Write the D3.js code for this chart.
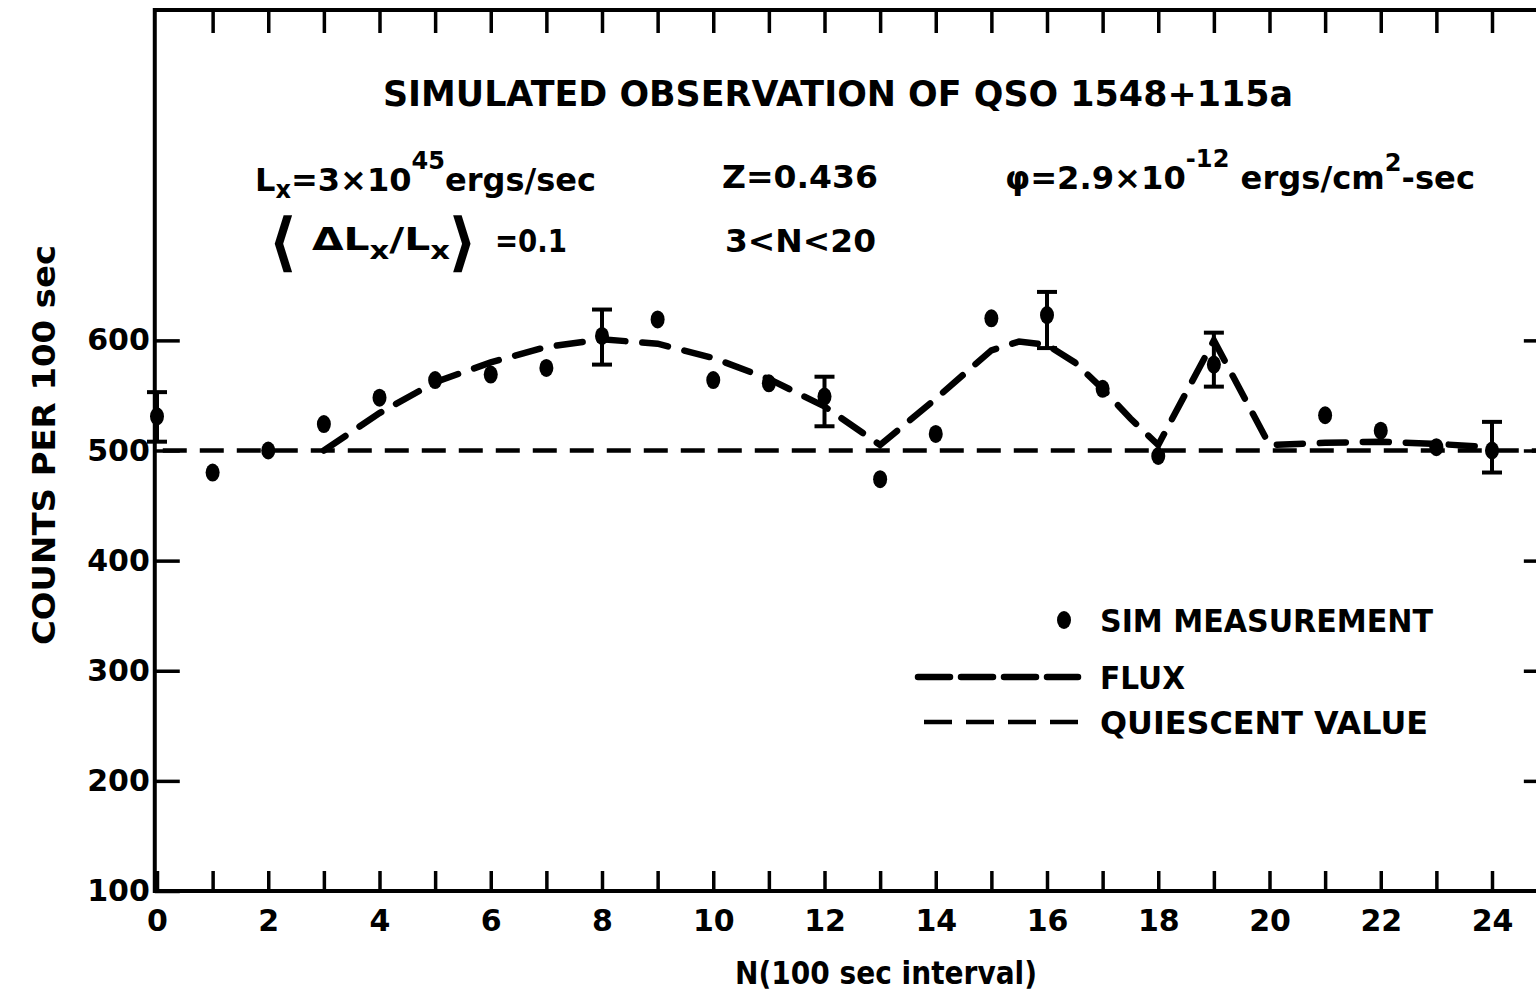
<!DOCTYPE html>
<html>
<head>
<meta charset="utf-8">
<script src="https://cdn.jsdelivr.net/npm/d3@7"></script>
<style>
  body { margin: 0; background: #fff; }
  svg { display: block; }
  text { font-family: "DejaVu Sans", sans-serif; font-weight: bold; fill: #000; }
</style>
</head>
<body>
<div id="chart"></div>
<script>
// simulated measurements, counts per 100 sec at each interval N
const intervals = [0, 1, 2, 3, 4, 5, 6, 7, 8, 9, 10, 11, 12, 13, 14, 15, 16, 17, 18, 19, 21, 22, 23, 24];
const counts = [531, 480, 500, 524, 548, 564, 569, 575, 604, 619, 564, 561, 549, 474, 515, 620, 623, 556, 495, 578, 532, 518, 503, 500];

// error bars shown on a few of the points
const errIntervals = [0, 8, 12, 16, 19, 24];
const errLow = [508, 578, 522, 593, 558, 480];
const errHigh = [553, 628, 567, 644, 607, 526];

// flux curve
const fluxN = [3, 4, 5, 6, 7, 8, 9, 10, 11, 12, 13, 14, 15, 15.5, 16, 16.5, 17, 17.5, 18, 19, 20, 21, 22, 23, 24];
const fluxCounts = [500, 534, 562, 580, 594, 601, 597, 584, 565, 540, 505, 547, 591, 599, 596, 580, 556, 529, 505, 600, 505, 507, 508, 506, 503];

const quiescent = 500;

const yTicks = [100, 200, 300, 400, 500, 600];
const xTicks = d3.range(0, 25);

const width = 1536, height = 996;

const svg = d3.select("#chart").append("svg")
    .attr("width", width)
    .attr("height", height);

const x = d3.scaleLinear().domain([0, 24]).range([157, 1492]);
const y = d3.scaleLinear().domain([100, 900]).range([891, 10]);
const xLeft = x(-0.04), xRight = x(24.86);

// frame
svg.append("rect")
    .attr("x", xLeft).attr("y", y(900))
    .attr("width", xRight - xLeft).attr("height", y(100) - y(900))
    .attr("fill", "none").attr("stroke", "#000").attr("stroke-width", 4);

function styleAxis(g, fs) {
    g.select(".domain").remove();
    g.attr("font-family", null).attr("font-size", null);
    g.selectAll("line").attr("stroke", "#000").attr("stroke-width", 3.5);
    g.selectAll("text").attr("font-size", fs).attr("fill", "#000");
}

// bottom axis
svg.append("g")
    .attr("transform", `translate(0,${y(100)})`)
    .call(d3.axisBottom(x).tickValues(xTicks).tickSize(-20).tickPadding(19)
        .tickFormat(d => d % 2 ? "" : d))
    .call(g => styleAxis(g, 30));

// top axis
svg.append("g")
    .attr("transform", `translate(0,${y(900)})`)
    .call(d3.axisTop(x).tickValues(xTicks.slice(1)).tickSize(-23).tickFormat(""))
    .call(g => styleAxis(g, 30));

// left axis
svg.append("g")
    .attr("transform", `translate(${xLeft},0)`)
    .call(d3.axisLeft(y).tickValues(yTicks).tickSize(-25).tickPadding(5))
    .call(g => styleAxis(g, 30));

// right axis
svg.append("g")
    .attr("transform", `translate(${xRight},0)`)
    .call(d3.axisRight(y).tickValues(yTicks.slice(1)).tickSize(-16).tickFormat(""))
    .call(g => styleAxis(g, 30));

// quiescent value
svg.append("line")
    .attr("x1", xLeft).attr("x2", xRight)
    .attr("y1", y(quiescent)).attr("y2", y(quiescent))
    .attr("stroke", "#000").attr("stroke-width", 4.5)
    .attr("stroke-dasharray", "24 13").attr("stroke-dashoffset", -8);

// flux
const fluxLine = d3.line().x(d => x(d[0])).y(d => y(d[1]));
svg.append("path")
    .datum(fluxN.map((n, i) => [n, fluxCounts[i]]))
    .attr("d", fluxLine)
    .attr("fill", "none").attr("stroke", "#000").attr("stroke-width", 6.5)
    .attr("stroke-linecap", "round")
    .attr("stroke-dasharray", "26 17");

// error bars
errIntervals.forEach((n, i) => {
    const g = svg.append("g").attr("stroke", "#000").attr("stroke-width", 4);
    g.append("line").attr("x1", x(n)).attr("x2", x(n)).attr("y1", y(errLow[i])).attr("y2", y(errHigh[i]));
    g.append("line").attr("x1", x(n) - 10).attr("x2", x(n) + 10).attr("y1", y(errLow[i])).attr("y2", y(errLow[i]));
    g.append("line").attr("x1", x(n) - 10).attr("x2", x(n) + 10).attr("y1", y(errHigh[i])).attr("y2", y(errHigh[i]));
});

// measurements
svg.selectAll(".pt")
    .data(intervals.map((n, i) => [n, counts[i]]))
    .enter().append("ellipse")
    .attr("class", "pt")
    .attr("cx", d => x(d[0])).attr("cy", d => y(d[1]))
    .attr("rx", 7).attr("ry", 9)
    .attr("fill", "#000");

// texts
function label(tx, ty, str, fs, len) {
    const t = svg.append("text").attr("x", tx).attr("y", ty).attr("font-size", fs).text(str);
    if (len) t.attr("textLength", len).attr("lengthAdjust", "spacingAndGlyphs");
    return t;
}

label(383, 106, "SIMULATED  OBSERVATION  OF  QSO 1548+115a", 36, 910);

// Lx = 3x10^45 ergs/sec
const t1 = svg.append("text").attr("x", 255).attr("y", 191).attr("font-size", 32);
t1.append("tspan").text("L");
t1.append("tspan").attr("font-size", 24).attr("dy", 7).text("x");
t1.append("tspan").attr("dy", -7).text("=3×10");
t1.append("tspan").attr("font-size", 24).attr("dy", -22).text("45");
t1.append("tspan").attr("dy", 22).text("ergs/sec");
t1.attr("textLength", 341).attr("lengthAdjust", "spacingAndGlyphs");

label(722, 188, "Z=0.436", 32, 156);

const t3 = svg.append("text").attr("x", 1005).attr("y", 189).attr("font-size", 32);
t3.append("tspan").text("φ=2.9×10");
t3.append("tspan").attr("font-size", 24).attr("dy", -22).text("-12");
t3.append("tspan").attr("dy", 22).text(" ergs/cm");
t3.append("tspan").attr("font-size", 24).attr("dy", -18).text("2");
t3.append("tspan").attr("dy", 18).text("-sec");
t3.attr("textLength", 470).attr("lengthAdjust", "spacingAndGlyphs");

// <dLx/Lx> = 0.1
label(268, 264, "⟨", 64, null).attr("font-weight", "normal");
const t4 = svg.append("text").attr("x", 312).attr("y", 250).attr("font-size", 32);
t4.append("tspan").text("ΔL");
t4.append("tspan").attr("font-size", 24).attr("dy", 9).text("x");
t4.append("tspan").attr("dy", -9).text("/L");
t4.append("tspan").attr("font-size", 24).attr("dy", 9).text("x");
t4.attr("textLength", 138).attr("lengthAdjust", "spacingAndGlyphs");
label(448, 264, "⟩", 64, null).attr("font-weight", "normal");
label(495, 252, "=0.1", 32, 72);

label(725, 252, "3<N<20", 32, 151);

// legend
svg.append("ellipse").attr("cx", 1064).attr("cy", 620).attr("rx", 7).attr("ry", 9).attr("fill", "#000");
label(1100, 632, "SIM  MEASUREMENT", 32, 333);
svg.append("line").attr("x1", 918).attr("x2", 1078).attr("y1", 677).attr("y2", 677)
    .attr("stroke", "#000").attr("stroke-width", 6.5).attr("stroke-linecap", "round")
    .attr("stroke-dasharray", "32 11");
label(1100, 689, "FLUX", 32, 85);
svg.append("line").attr("x1", 924).attr("x2", 1078).attr("y1", 722).attr("y2", 722)
    .attr("stroke", "#000").attr("stroke-width", 4.5)
    .attr("stroke-dasharray", "28 14");
label(1100, 734, "QUIESCENT  VALUE", 32, 328);

// axis titles
label(735, 984, "N(100 sec interval)", 32, 302);
svg.append("text")
    .attr("transform", "translate(55,445) rotate(-90)")
    .attr("text-anchor", "middle")
    .attr("font-size", 32)
    .attr("textLength", 400).attr("lengthAdjust", "spacingAndGlyphs")
    .text("COUNTS  PER  100 sec");
</script>
</body>
</html>
